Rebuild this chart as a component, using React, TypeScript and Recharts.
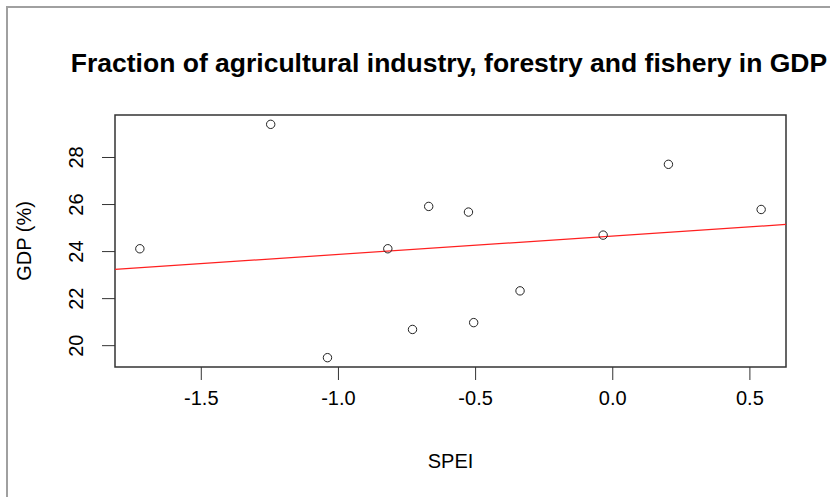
import React from 'react';
import { ScatterChart, Scatter, XAxis, YAxis, ReferenceArea, ReferenceLine } from 'recharts';

const speiValues = [-1.724, -1.247, -0.82, -0.671, -0.526, -0.73, -0.507, -0.338, -0.035, 0.203, 0.541, -1.04];
const gdpValues = [24.12, 29.41, 24.12, 25.92, 25.68, 20.69, 20.98, 22.33, 24.7, 27.71, 25.79, 19.49];
const xTicks = [-1.5, -1.0, -0.5, 0.0, 0.5];
const yTicks = [20, 22, 24, 26, 28];
// fitted line
const fitIntercept = 24.66;
const fitSlope = 0.78;

const FONT = '"Liberation Sans", Arial, sans-serif';

// R style range: data range padded by 4% each side
const pad = (vals: number[]) => {
  const lo = Math.min(...vals);
  const hi = Math.max(...vals);
  const d = (hi - lo) * 0.04;
  return [lo - d, hi + d];
};
const xDomain = pad(speiValues);
const yDomain = pad(gdpValues);

const points = speiValues.map((x, i) => ({ x, y: gdpValues[i] }));

const Ring = (props: any) => (
  <circle cx={props.cx} cy={props.cy} r={4.2} fill="none" stroke="#222" strokeWidth={1} />
);

const YTick = ({ x, y, payload }: any) => (
  <text x={x - 17} y={y} transform={`rotate(-90, ${x - 17}, ${y})`} textAnchor="middle"
    fontSize={20} fontFamily={FONT} fill="#000">
    {payload.value}
  </text>
);

const XTick = ({ x, y, payload }: any) => (
  <text x={x} y={y + 23} textAnchor="middle" fontSize={20} fontFamily={FONT} fill="#000">
    {payload.value.toFixed(1)}
  </text>
);

export default function App() {
  return (
    <div style={{ position: 'absolute', left: 0, top: 0, width: 830, height: 497, background: '#fff', overflow: 'hidden' }}>
      <div style={{ position: 'absolute', left: 6, top: 6, width: 900, height: 600, borderLeft: '2px solid #a0a0a0', borderTop: '2px solid #a0a0a0' }} />
      <div style={{ position: 'absolute', left: 0, width: 900, top: 50, lineHeight: '26px', fontSize: 26.5, fontWeight: 'bold', fontFamily: FONT, color: '#000' }}>
        <span style={{ position: 'absolute', left: 449, transform: 'translateX(-50%)', whiteSpace: 'nowrap' }}>
          Fraction of agricultural industry, forestry and fishery in GDP
        </span>
      </div>
      <ScatterChart width={830} height={497} margin={{ top: 115, right: 44, left: 0, bottom: 0 }}>
        <XAxis type="number" dataKey="x" domain={xDomain} ticks={xTicks} allowDataOverflow
          axisLine={false} tickLine={{ stroke: '#333' }} tickSize={13} height={130} tick={<XTick />}
          label={({ viewBox }: any) => (
            <text x={viewBox.x + viewBox.width / 2} y={viewBox.y + 101} textAnchor="middle" fontSize={20} fontFamily={FONT} fill="#000">SPEI</text>
          )} />
        <YAxis type="number" dataKey="y" domain={yDomain} ticks={yTicks} allowDataOverflow
          axisLine={false} tickLine={{ stroke: '#333' }} tickSize={13} width={115} tick={<YTick />}
          label={({ viewBox }: any) => (
            <text x={31} y={viewBox.y + viewBox.height / 2} transform={`rotate(-90, 31, ${viewBox.y + viewBox.height / 2})`}
              textAnchor="middle" fontSize={20} fontFamily={FONT} fill="#000">GDP (%)</text>
          )} />
        <ReferenceArea x1={xDomain[0]} x2={xDomain[1]} y1={yDomain[0]} y2={yDomain[1]} fill="none" stroke="#333" strokeWidth={1.5} ifOverflow="visible" />
        <ReferenceLine stroke="#ff2020" strokeWidth={1.2} ifOverflow="visible"
          segment={[
            { x: xDomain[0], y: fitIntercept + fitSlope * xDomain[0] },
            { x: xDomain[1], y: fitIntercept + fitSlope * xDomain[1] },
          ]} />
        <Scatter data={points} shape={<Ring />} isAnimationActive={false} />
      </ScatterChart>
    </div>
  );
}
